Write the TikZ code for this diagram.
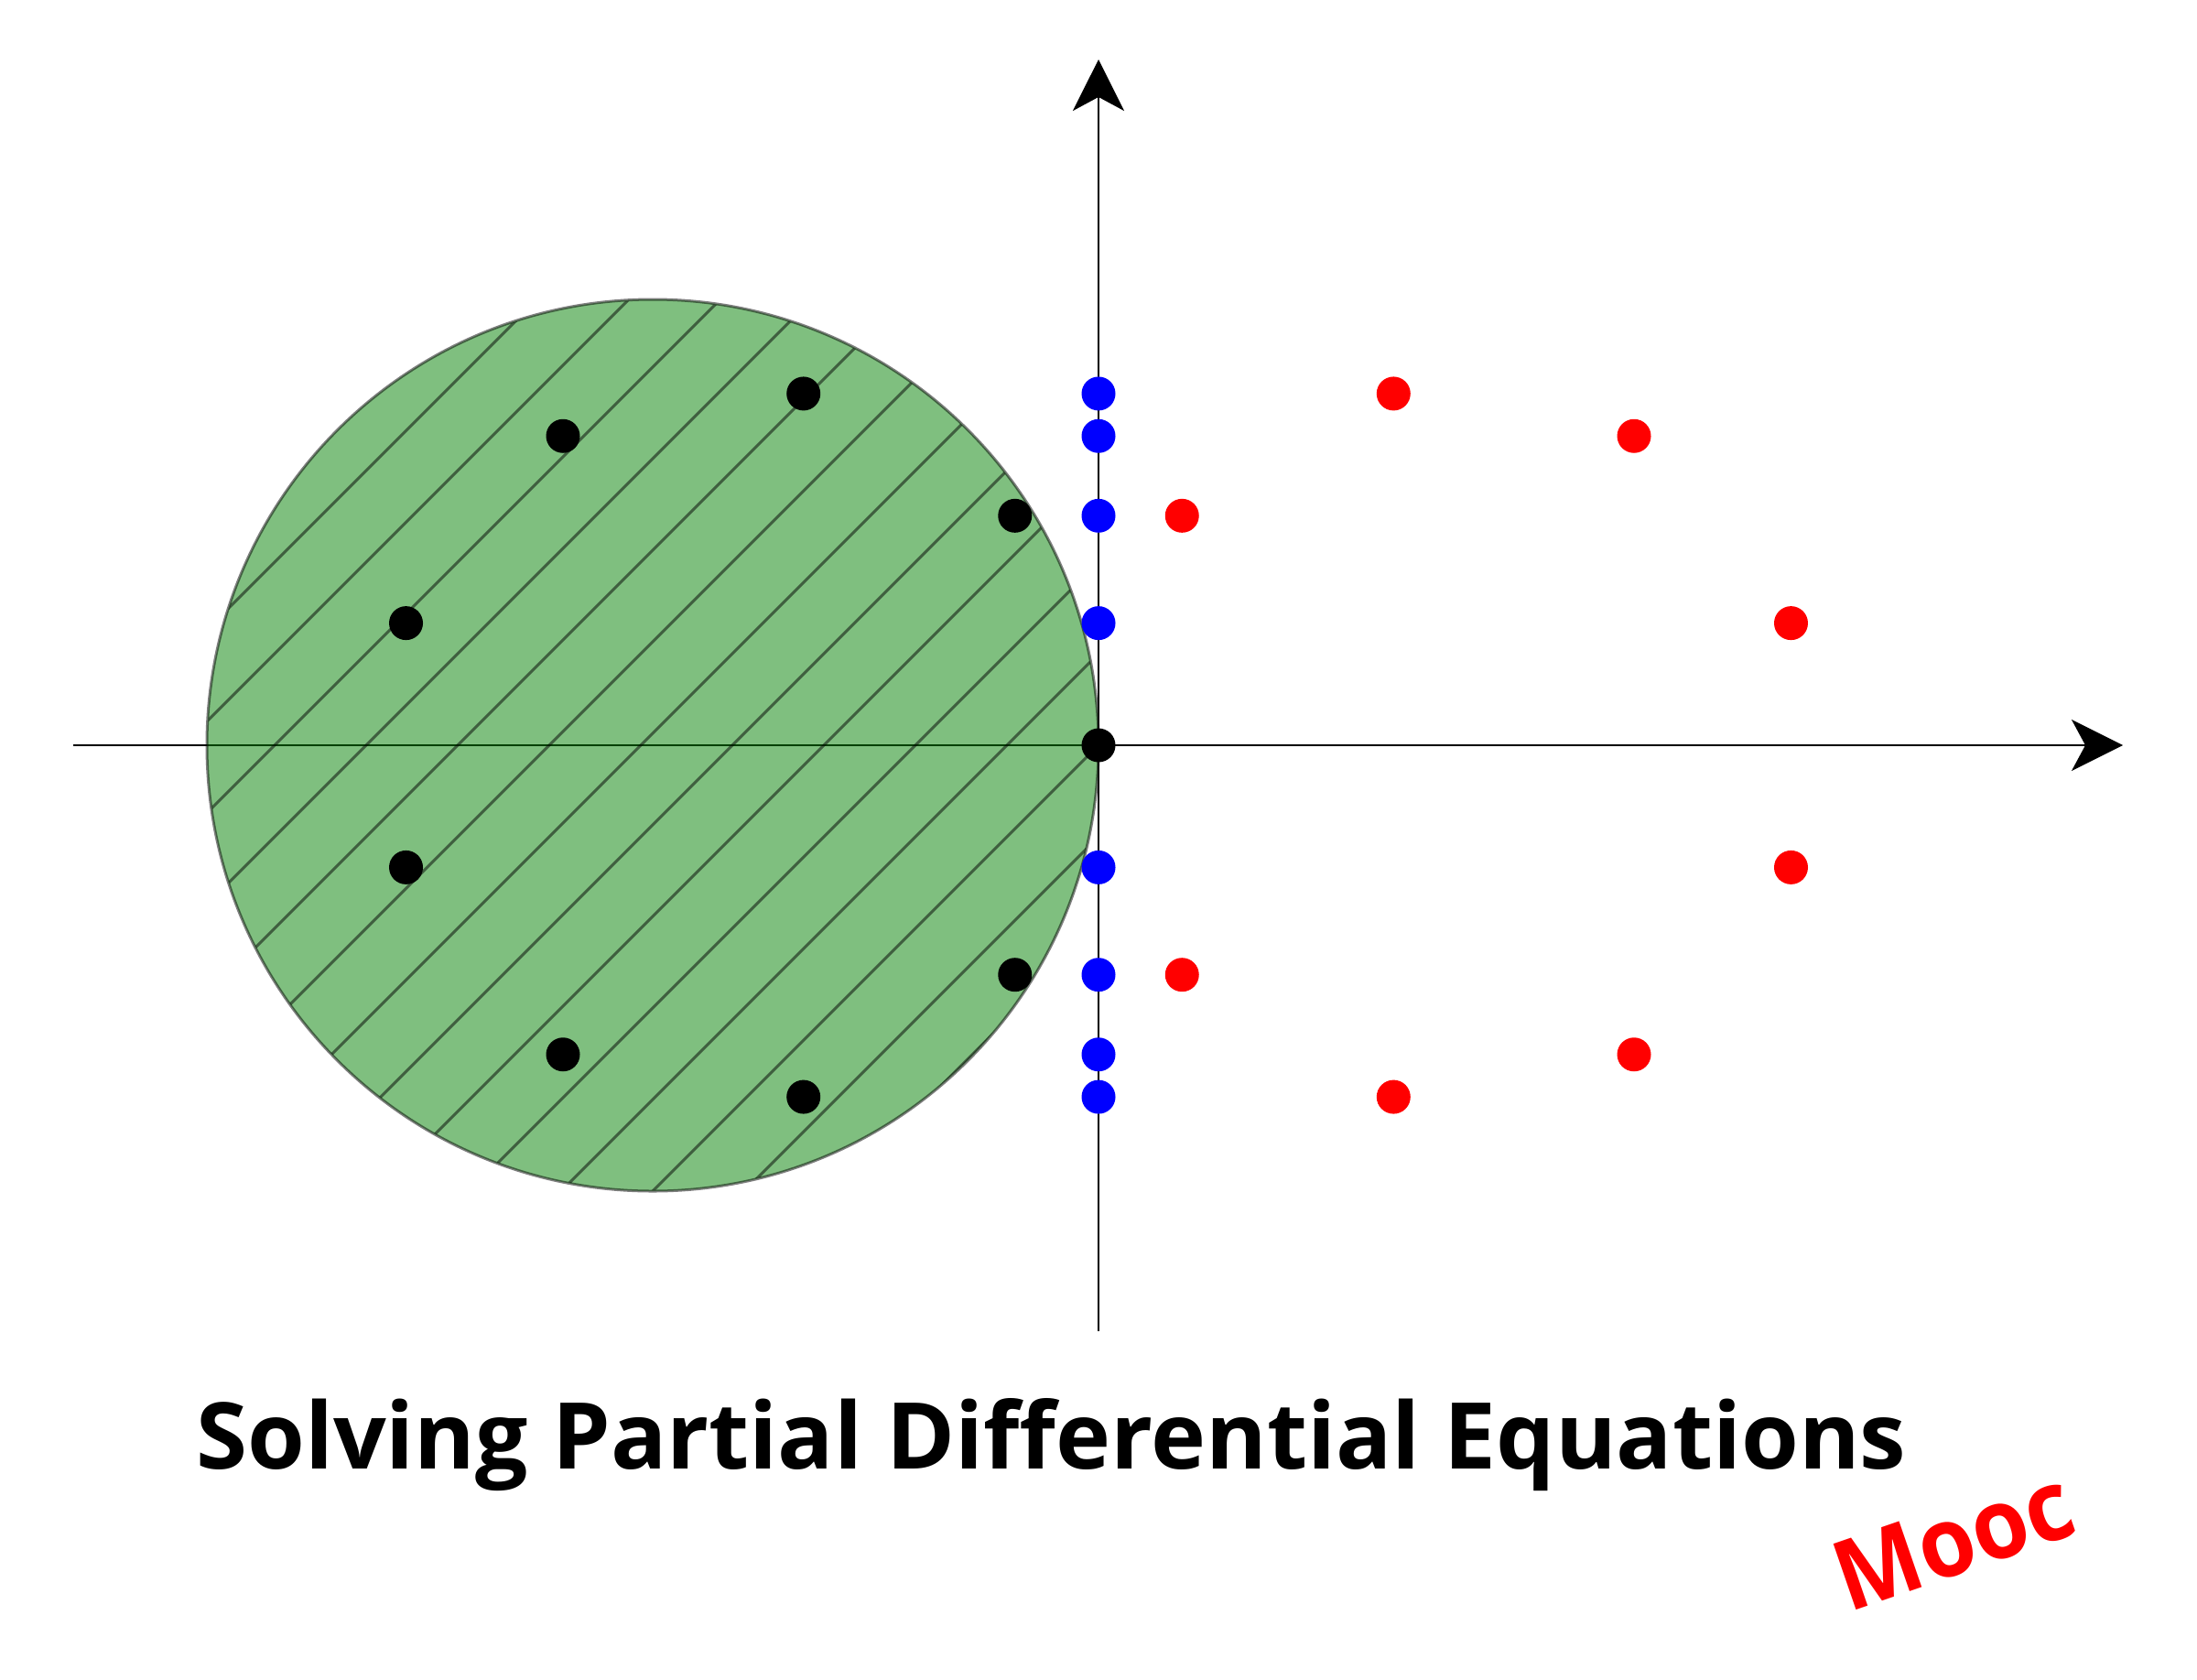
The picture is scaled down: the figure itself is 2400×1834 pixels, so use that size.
\documentclass[tikz,border=0pt]{standalone}
\usepackage{fontspec}
\setmainfont{Open Sans}
\usetikzlibrary{arrows.meta}
\definecolor{dgreen}{RGB}{0,128,0}
\definecolor{dblue}{RGB}{0,0,255}
\definecolor{dred}{RGB}{255,0,0}
\tikzset{
  axis/.style={line width=2.4pt, -{Stealth[length=56pt, width=56pt, inset=15pt]}},
  dot/.style={circle, inner sep=0pt, minimum size=37pt, draw=none},
  hatchline/.style={line width=3pt, draw=black, draw opacity=0.5},
  disk/.style={circle, inner sep=0pt, minimum size=974pt, fill=dgreen, fill opacity=0.5, draw=black, draw opacity=0.5, line width=3pt}
}
\begin{document}
\begin{tikzpicture}[x=1pt,y=-1pt]
\useasboundingbox (0,0) rectangle (2400,1834);
\fill[white] (0,0) rectangle (2400,1834);
% axes
\coordinate (xl) at (80,814);
\coordinate (xr) at (2319,814);
\coordinate (yb) at (1200,1454);
\coordinate (yt) at (1200,65);
\draw[axis] (xl) -- (xr);
\draw[axis] (yb) -- (yt);
% disk
\node[disk] (disk) at (713,814) {};
\begin{scope}
  \clip (713,814) circle (486pt);
  \foreach \n in {8,...,22} {
    \draw[hatchline] ({14+100*\n-1500},1500) -- ({14+100*\n-100},100);
  }
\end{scope}
% dots
\node[dot, fill=black] (b0) at (1200,814) {};
\foreach \k in {1,...,8} {
  \pgfmathsetmacro{\dx}{390*(1-cos(40*\k))}
  \pgfmathsetmacro{\yy}{814-390*sin(40*\k)}
  \node[dot, fill=black] (b\k) at ({1200-\dx},\yy) {};
  \node[dot, fill=dblue] (u\k) at (1200,\yy) {};
  \node[dot, fill=dred] (r\k) at ({1200+\dx},\yy) {};
}
% texts
\node[anchor=base west, inner sep=0pt] (title) at (214,1604)
  {\resizebox{1868pt}{77pt}{\bfseries Solving Partial Differential Equations}};
\node[text=dred, rotate=19, inner sep=0pt] (mooc) at (2134,1682)
  {\resizebox{268pt}{76pt}{\bfseries Mooc}};
\end{tikzpicture}
\end{document}
